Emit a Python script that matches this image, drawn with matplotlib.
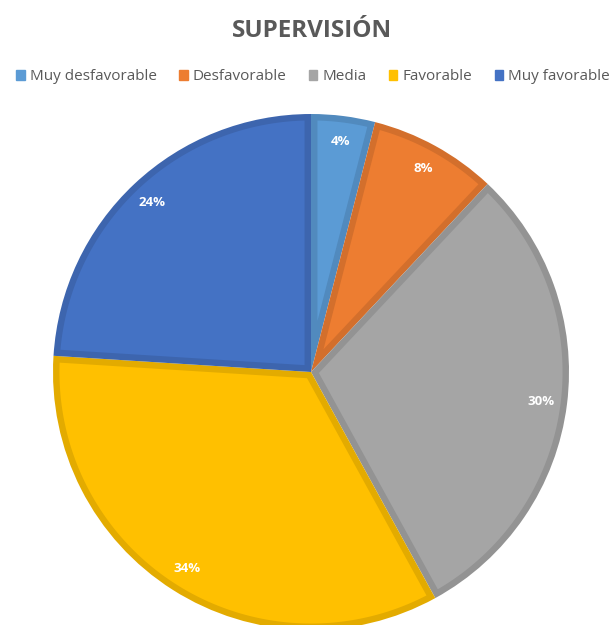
import matplotlib.pyplot as plt
import matplotlib.colors as mcolors
from matplotlib.patches import Polygon
import numpy as np

# datos de la encuesta
categorias = ['Muy desfavorable', 'Desfavorable', 'Media', 'Favorable', 'Muy favorable']
porcentajes = [4, 8, 30, 34, 24]
colores = ['#5B9BD5', '#ED7D31', '#A5A5A5', '#FFC000', '#4472C4']

plt.rcParams['font.family'] = ['Open Sans', 'DejaVu Sans']

fig = plt.figure(figsize=(6.14, 6.25), dpi=100)
# eje cuadrado en pixeles para que la torta quede redonda
ax = fig.add_axes([53/614, -5/625, 516/614, 516/625])

# porciones con el color del borde (mas oscuro)
oscuros = [np.array(mcolors.to_rgb(c)) * 0.89 for c in colores]
wedges, textos = ax.pie(porcentajes, colors=oscuros, startangle=90, counterclock=False,
                        radius=1, labels=[f'{p}%' for p in porcentajes],
                        labeldistance=0.9, wedgeprops=dict(linewidth=0),
                        textprops=dict(color='white', fontsize=9.5, fontweight='bold'))

# relleno interior de cada porcion, metido hacia adentro un poco
d = 0.025
for w, c in zip(wedges, colores):
    t1, t2 = np.deg2rad(w.theta1), np.deg2rad(w.theta2)
    r = w.r - d
    da = np.arcsin(d / r)
    ang = np.linspace(t1 + da, t2 - da, 200)
    medio = (t1 + t2) / 2
    vert = d / np.sin((t2 - t1) / 2)
    pts = [(vert * np.cos(medio), vert * np.sin(medio))]
    pts += list(zip(r * np.cos(ang), r * np.sin(ang)))
    ax.add_patch(Polygon(pts, closed=True, facecolor=c, edgecolor='none', zorder=1.5))

for t in textos:
    t.set_zorder(3)
    t.set_ha('center')
    t.set_va('center')

ax.set_xlim(-1, 1)
ax.set_ylim(-1, 1)
ax.axis('off')

fig.text(0.508, 0.951, 'SUPERVISIÓN', ha='center', va='center',
         fontsize=17.5, fontweight='bold', color='#595959')

# leyenda arriba
handles = [plt.Rectangle((0, 0), 1, 1, color=c) for c in colores]
fig.legend(handles, categorias, loc='center', bbox_to_anchor=(0.51, 0.877), ncol=5,
           frameon=False, fontsize=11, handlelength=0.55, handleheight=0.55,
           handletextpad=0.35, columnspacing=1.45, labelcolor='#595959',
           borderaxespad=0, borderpad=0)

plt.savefig('out.png', dpi=100)
